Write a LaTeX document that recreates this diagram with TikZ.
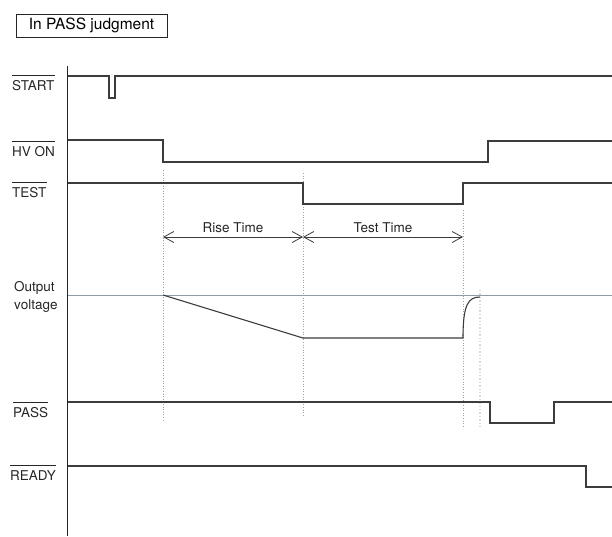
\documentclass[tikz,border=0pt]{standalone}
\usepackage{fontspec}
\setmainfont{TeX Gyre Heros}
\usetikzlibrary{arrows.meta, positioning}
\definecolor{SigGray}{HTML}{3C3C3C}
\definecolor{RefGray}{HTML}{8E9BA6}
\definecolor{GuideGray}{HTML}{A0A0A0}
\definecolor{LightGuide}{HTML}{D8D8D8}

\begin{document}
\begin{tikzpicture}[x=1pt, y=-1pt,
  signal/.style={draw=SigGray, line width=1.1pt},
  axis/.style={draw=black!85, line width=1pt},
  guide/.style={draw=GuideGray, dotted, line width=0.6pt},
  faintguide/.style={draw=LightGuide, dotted, line width=1.4pt},
  reflevel/.style={draw=RefGray, line width=0.8pt},
  span/.style={{Straight Barb[length=10pt,width=11pt]}-{Straight Barb[length=10pt,width=11pt]},
    line width=0.8pt, draw=SigGray},
  siglbl/.style={anchor=west, inner sep=0pt, font=\fontsize{13.5}{18}\selectfont, text=black!85},
  bar/.style={draw=black!85, line width=0.8pt}
]
\useasboundingbox (0,0) rectangle (612,536);

% Title
\node[draw=black!85, line width=0.8pt, minimum width=151pt, minimum height=23pt,
  inner sep=0pt, font=\fontsize{15.5}{18}\selectfont] (title) at (91.5,25.5) {In PASS judgment};

% Time axis
\coordinate (axtop) at (67,66);
\coordinate (axbot) at (67,536);
\draw[axis] (axtop) -- (axbot);

% Signal names
\node[siglbl] (start) at (12,86)  {START};
\node[siglbl] (hvon)  at (12,152) {HV ON};
\node[siglbl] (test)  at (12,193) {TEST};
\node[siglbl, align=left] (vout) at (14,297) {Output\\voltage};
\node[siglbl] (pass)  at (13,413) {PASS};
\node[siglbl] (ready) at (10,476) {READY};

\foreach \n in {start, hvon, test, pass, ready}
  \draw[bar] ([yshift=5.5pt]\n.north west) -- ([yshift=5.5pt]\n.north east);

% Guides
\draw[guide] (163,170) -- (163,420);
\draw[guide] (303,173) -- (303,415);
\draw[guide] (463,210) -- (463,427);
\draw[faintguide] (480,290) -- (480,427);

% Waveforms
\draw[signal] (68,76) -- (109,76) -- (109,98) -- (115,98) -- (115,76) -- (612,76);
\draw[signal] (68,140) -- (163,140) -- (163,162) -- (488,162) -- (488,141) -- (612,141);
\draw[signal] (68,183) -- (303,183) -- (303,204) -- (463,204) -- (463,183) -- (612,183);
\draw[reflevel] (68,295) -- (612,295);
\draw[signal] (163,295) -- (303,338) -- (463,338) .. controls (463,305) and (468,297) .. (480,297);
\draw[signal] (68,402) -- (490,402) -- (490,423) -- (554,423) -- (554,402) -- (612,402);
\draw[signal] (68,466) -- (586,466) -- (586,487) -- (612,487);

% Time spans
\coordinate (rs) at (163,237);
\coordinate (ts) at (303,237);
\coordinate (te) at (463,237);
\draw[span] (rs) -- (ts) node[midway, above=4pt, siglbl, anchor=south] (risetxt) {Rise Time};
\draw[span] (ts) -- (te) node[midway, above=4pt, siglbl, anchor=south] (testtxt) {Test Time};

\end{tikzpicture}
\end{document}
